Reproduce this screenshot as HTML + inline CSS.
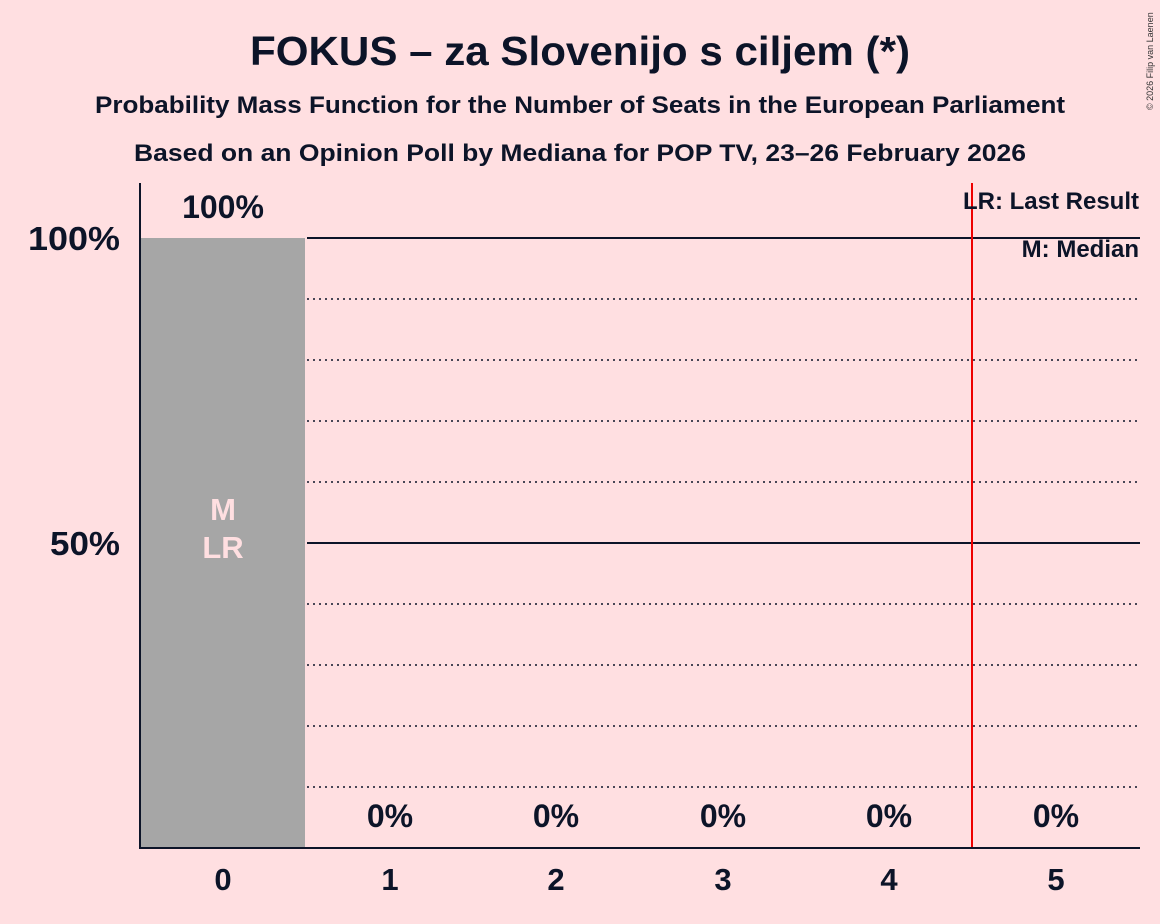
<!DOCTYPE html>
<html><head><meta charset="utf-8"><style>
body{margin:0;background:#ffdfe1;}
svg{display:block;font-family:"Liberation Sans",sans-serif;font-weight:bold;}
</style></head><body>
<svg width="1160" height="924" viewBox="0 0 1160 924">
<rect width="1160" height="924" fill="#ffdfe1"/>
<text x="250" y="65" textLength="660" lengthAdjust="spacingAndGlyphs" font-size="41" fill="#0c1428">FOKUS – za Slovenijo s ciljem (*)</text>
<text x="95" y="113" textLength="970" lengthAdjust="spacingAndGlyphs" font-size="24" fill="#0c1428">Probability Mass Function for the Number of Seats in the European Parliament</text>
<text x="134" y="161" textLength="892" lengthAdjust="spacingAndGlyphs" font-size="24" fill="#0c1428">Based on an Opinion Poll by Mediana for POP TV, 23–26 February 2026</text>
<text x="1153" y="110" font-size="9" font-weight="normal" fill="#333" transform="rotate(-90 1153 110)">© 2026 Filip van Laenen</text>
<g stroke="#0c1428" stroke-width="1.5" stroke-dasharray="2,4">
<line x1="307" x2="1140" y1="299" y2="299"/><line x1="307" x2="1140" y1="360" y2="360"/>
<line x1="307" x2="1140" y1="421" y2="421"/><line x1="307" x2="1140" y1="482" y2="482"/>
<line x1="307" x2="1140" y1="604" y2="604"/><line x1="307" x2="1140" y1="665" y2="665"/>
<line x1="307" x2="1140" y1="726" y2="726"/><line x1="307" x2="1140" y1="787" y2="787"/>
</g>
<line x1="307" x2="1140" y1="238" y2="238" stroke="#0c1428" stroke-width="2"/>
<line x1="307" x2="1140" y1="543" y2="543" stroke="#0c1428" stroke-width="2"/>
<rect x="140" y="238" width="165" height="610" fill="#a6a6a6"/>
<line x1="972" x2="972" y1="183" y2="848" stroke="#e00" stroke-width="2"/>
<line x1="140" x2="140" y1="183" y2="848" stroke="#0c1428" stroke-width="2"/>
<line x1="139" x2="1140" y1="848" y2="848" stroke="#0c1428" stroke-width="2"/>
<g font-size="33" fill="#0c1428">
<text x="28" y="250" textLength="92" lengthAdjust="spacingAndGlyphs">100%</text><text x="50" y="555" textLength="70" lengthAdjust="spacingAndGlyphs">50%</text></g>
<g font-size="31" fill="#0c1428" text-anchor="middle">
<text x="223" y="890">0</text><text x="390" y="890">1</text><text x="556" y="890">2</text>
<text x="723" y="890">3</text><text x="889" y="890">4</text><text x="1056" y="890">5</text></g>
<g font-size="32" fill="#0c1428" text-anchor="middle">
<text x="223" y="218">100%</text><text x="390" y="827">0%</text><text x="556" y="827">0%</text>
<text x="723" y="827">0%</text><text x="889" y="827">0%</text><text x="1056" y="827">0%</text></g>
<g font-size="31" fill="#ffdfe1" text-anchor="middle">
<text x="223" y="520">M</text><text x="223" y="558">LR</text></g>
<g font-size="24" fill="#0c1428" text-anchor="end">
<text x="1139" y="209">LR: Last Result</text><text x="1139" y="257">M: Median</text></g>
</svg>
</body></html>
